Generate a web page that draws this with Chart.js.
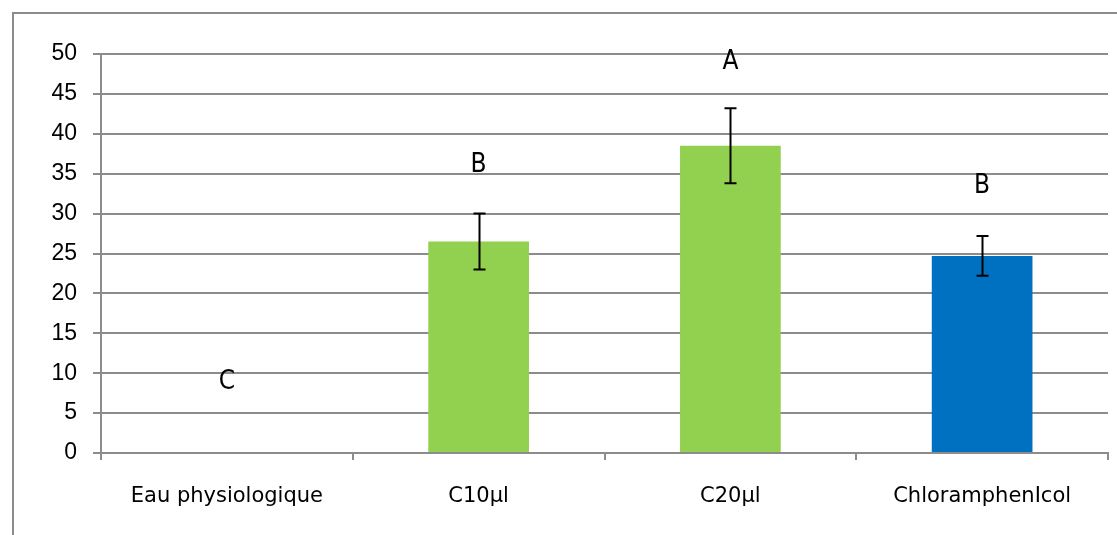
<!DOCTYPE html>
<html>
<head>
<meta charset="utf-8">
<script src="https://cdn.jsdelivr.net/npm/chart.js@4/dist/chart.umd.min.js"></script>
<style>
  html, body { margin: 0; padding: 0; background: #fff; }
  #wrap { width: 1117px; height: 535px; position: relative; }
</style>
</head>
<body>
<div id="wrap"><canvas id="myChart" width="1117" height="535"></canvas></div>
<script>
// chart values
var categories = ['Eau physiologique', 'C10µl', 'C20µl', 'ChloramphenIcol'];
var means = [0, 26.5, 38.5, 24.7];
var errors = [0, 3.5, 4.7, 2.5];
var letters = ['C', 'B', 'A', 'B'];
var letterLevels = [8.9, 36.1, 49.0, 33.4];
var barColors = ['#92d050', '#92d050', '#92d050', '#0070c0'];
var yTicks = [0, 5, 10, 15, 20, 25, 30, 35, 40, 45, 50];

var gridGray = '#8c8c8c';

// outer frame, like the spreadsheet chart box
var framePlugin = {
  id: 'frame',
  beforeDraw: function(chart) {
    var ctx = chart.ctx;
    ctx.save();
    ctx.strokeStyle = gridGray;
    ctx.lineWidth = 2;
    ctx.strokeRect(13, 13, 1200, 600);
    ctx.restore();
  }
};

// error bars + significance letters
var extrasPlugin = {
  id: 'extras',
  afterDatasetsDraw: function(chart) {
    var ctx = chart.ctx;
    var x = chart.scales.x, y = chart.scales.y;
    ctx.save();
    ctx.strokeStyle = '#000';
    ctx.lineWidth = 2;
    for (var i = 0; i < means.length; i++) {
      if (!errors[i]) continue;
      var cx = Math.round(x.getPixelForValue(i)) + 0.5;
      var top = y.getPixelForValue(means[i] + errors[i]);
      var bot = y.getPixelForValue(means[i] - errors[i]);
      ctx.beginPath();
      ctx.moveTo(cx, top); ctx.lineTo(cx, bot);
      ctx.moveTo(cx - 6, top); ctx.lineTo(cx + 6, top);
      ctx.moveTo(cx - 6, bot); ctx.lineTo(cx + 6, bot);
      ctx.stroke();
    }
    ctx.fillStyle = '#000';
    ctx.font = '26px "DejaVu Sans Condensed", "DejaVu Sans", sans-serif';
    ctx.textAlign = 'center';
    ctx.textBaseline = 'middle';
    for (var j = 0; j < letters.length; j++) {
      ctx.fillText(letters[j], x.getPixelForValue(j), y.getPixelForValue(letterLevels[j]));
    }
    ctx.restore();
  }
};

var ctx = document.getElementById('myChart');
var myBarChart = new Chart(ctx, {
  type: 'bar',
  data: {
    labels: categories,
    datasets: [{
      data: means,
      backgroundColor: barColors,
      borderWidth: 0,
      barPercentage: 0.4,
      categoryPercentage: 1.0
    }]
  },
  options: {
    responsive: false,
    animation: false,
    events: [],
    layout: { padding: { left: 20, right: 9, top: 54, bottom: 0 } },
    plugins: { legend: { display: false }, tooltip: { enabled: false } },
    scales: {
      x: {
        grid: { display: true, drawOnChartArea: false, drawTicks: true, tickLength: 7, color: gridGray, lineWidth: 2, offset: true },
        border: { display: true, color: gridGray, width: 2 },
        ticks: { color: '#000', padding: 24, font: { family: '"DejaVu Sans", sans-serif', size: 21 } },
        afterFit: function(scale) { scale.height = 82; }
      },
      y: {
        min: 0, max: 50,
        afterBuildTicks: function(scale) {
          scale.ticks = yTicks.map(function(v) { return { value: v }; });
        },
        grid: { color: gridGray, lineWidth: 2, tickLength: 8 },
        border: { display: true, color: gridGray, width: 2 },
        ticks: { color: '#000', padding: 16, font: { family: '"Liberation Sans", Arial, sans-serif', size: 23 } },
        afterFit: function(scale) { scale.width = 81; }
      }
    }
  },
  plugins: [framePlugin, extrasPlugin]
});
</script>
</body>
</html>
